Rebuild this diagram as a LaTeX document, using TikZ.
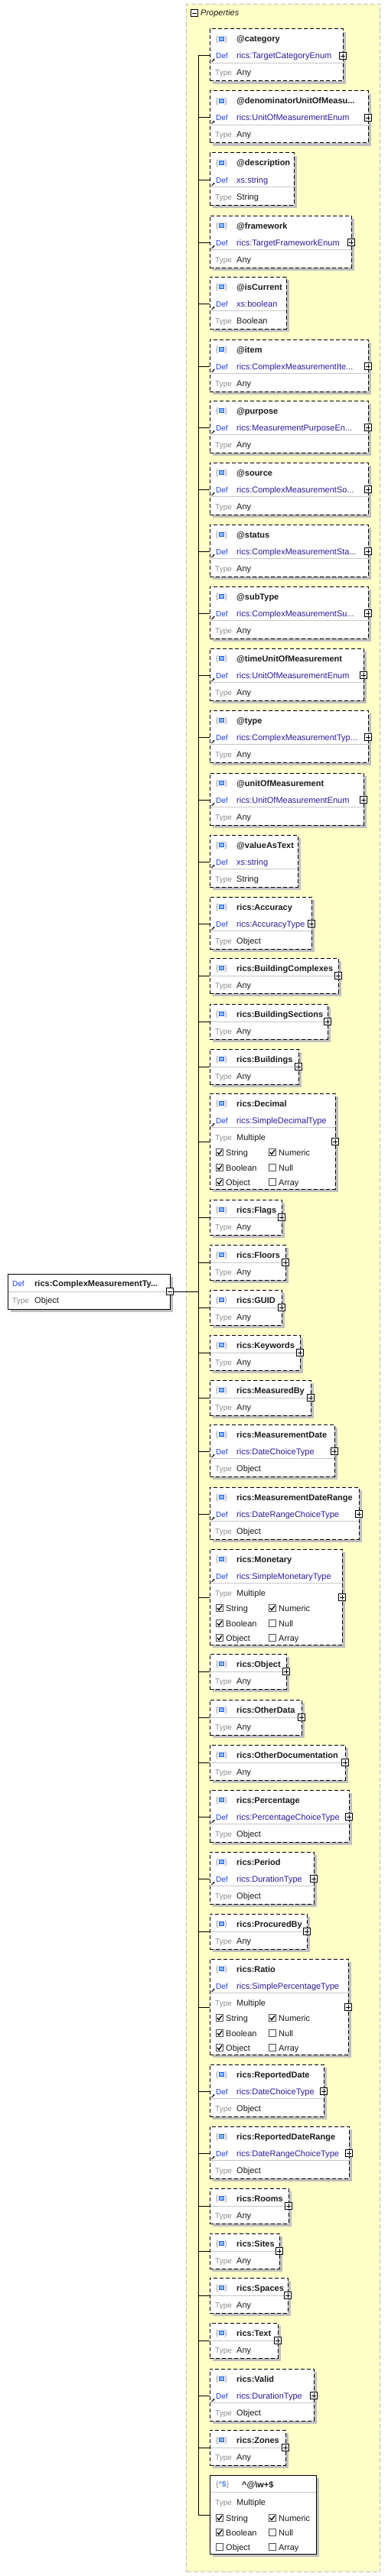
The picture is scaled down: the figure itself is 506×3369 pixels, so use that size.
\documentclass[tikz,border=0pt]{standalone}
\usepackage{fontspec}
\setmainfont{Liberation Sans}
\usetikzlibrary{arrows.meta}
\definecolor{yel}{HTML}{FFFFC8}
\definecolor{cbord}{HTML}{BDBDBD}
\definecolor{shd}{HTML}{C0C0C0}
\definecolor{deflbl}{HTML}{1A3CF0}
\definecolor{defval}{HTML}{2C1C9C}
\definecolor{typelbl}{HTML}{8C8C8C}
\definecolor{sepc}{HTML}{C8C8C8}
\definecolor{iconfill}{HTML}{8CB8FF}
\definecolor{iconbord}{HTML}{1F5FE0}
\definecolor{ckbord}{HTML}{505050}
\definecolor{txt}{HTML}{1A1A1A}
\tikzset{
 pbox/.style={draw=black, line width=1pt, fill=white, anchor=north west, inner sep=0pt, outer sep=0pt, rectangle},
 dsh/.style={dash pattern=on 5pt off 3pt},
 lbl/.style={anchor=base west, inner sep=0pt, font=\fontsize{10}{12}\selectfont},
 ttl/.style={anchor=base west, inner sep=0pt, text=txt, font=\fontsize{11}{13}\selectfont\bfseries},
 val/.style={anchor=base west, inner sep=0pt, text=txt, font=\fontsize{11}{13}\selectfont},
 plusb/.style={draw=black, fill=white, line width=0.8pt, minimum size=9pt, inner sep=0pt, rectangle},
 conn/.style={line width=1pt, black},
 ckstyle/.style={draw=ckbord, fill=white, line width=0.8pt, minimum size=9pt, inner sep=0pt, rectangle},
 defarrow/.style={-{Stealth[length=2.5pt,width=2.5pt]}, line width=0.9pt},
}
\newcommand\plussign[1]{%
 \draw[line width=0.8pt] ([xshift=-3pt]#1.center) -- ([xshift=3pt]#1.center);
 \draw[line width=0.8pt] ([yshift=-3pt]#1.center) -- ([yshift=3pt]#1.center);}
\newcommand\myicon[2]{%
 \node[anchor=base west, inner sep=0pt, text=typelbl, font=\fontsize{10}{12}\selectfont] (#1-ia) at (282,#2+3.5) {\{};
 \draw[iconbord, fill=iconfill, line width=0.8pt] (286.5,#2-2.5) rectangle (292.5,#2+2.5);
 \node[anchor=base west, inner sep=0pt, text=typelbl, font=\fontsize{10}{12}\selectfont] (#1-ib) at (293.5,#2+3.5) {\}};}
\newcommand\ckb[4]{% name x y checked
 \node[ckstyle] (#1) at (#2,#3) {};
 \ifnum#4=1 \draw[line width=1.3pt, line join=miter] (#2-3,#3) -- (#2-1,#3+2.6) -- (#2+3,#3-3);\fi}
\newcommand\checks[5]{% name y1 y2 y3 objectchecked
 \ckb{#1-k1}{287}{#2}{1}\node[val] (#1-k1t) at (295,#2+4) {String};
 \ckb{#1-k2}{356}{#2}{1}\node[val] (#1-k2t) at (364,#2+4) {Numeric};
 \ckb{#1-k3}{287}{#3}{1}\node[val] (#1-k3t) at (295,#3+4) {Boolean};
 \ckb{#1-k4}{356}{#3}{0}\node[val] (#1-k4t) at (364,#3+4) {Null};
 \ckb{#1-k5}{287}{#4}{#5}\node[val] (#1-k5t) at (295,#4+4) {Object};
 \ckb{#1-k6}{356}{#4}{0}\node[val] (#1-k6t) at (364,#4+4) {Array};}
% kind A: title / Def / Type
\newcommand\pbA[7]{%
 \pgfmathsetmacro\pT{#2}\pgfmathsetmacro\pR{#3}\pgfmathsetlengthmacro\pW{(#3)-274}%
 \pgfmathsetmacro\yA{#2+13}\pgfmathsetmacro\yB{#2+35}\pgfmathsetmacro\yS{#2+44}\pgfmathsetmacro\yC{#2+57}%
 \fill[shd] (278,\pT+4) rectangle (\pR+4,\pT+72);
 \node[pbox,dsh,minimum width=\pW,minimum height=68pt] (#1) at (274,\pT) {};
 \draw[sepc, line width=0.8pt] (274.5,\yS) -- (\pR-0.5,\yS);
 \myicon{#1}{\yA}
 \node[ttl] (#1-t) at (309,\yA+4) {#4};
 \node[lbl,text=deflbl] (#1-dl) at (282,\yB+4) {Def};
 \node[val,text=defval] (#1-dv) at (309,\yB+4) {#5};
 \node[lbl,text=typelbl] (#1-tl) at (281,\yC+4) {Type};
 \node[val] (#1-tv) at (309,\yC+4) {#6};
 \draw[defarrow] (276.5,\yB+8) -- (280.5,\yB+4);
 \coordinate (#1-c) at (259,\yB);
 \draw[conn] (#1-c) -- (#1.west |- #1-c);
 \ifnum#7=1 \node[plusb] (#1-p) at (\pR,\yB) {};\plussign{#1-p}\fi}
% kind B: title / Type Any
\newcommand\pbB[4]{%
 \pgfmathsetmacro\pT{#2}\pgfmathsetmacro\pR{#3}\pgfmathsetlengthmacro\pW{(#3)-274}%
 \pgfmathsetmacro\yA{#2+13}\pgfmathsetmacro\yS{#2+23}\pgfmathsetmacro\yC{#2+35}%
 \fill[shd] (278,\pT+4) rectangle (\pR+4,\pT+50);
 \node[pbox,dsh,minimum width=\pW,minimum height=46pt] (#1) at (274,\pT) {};
 \draw[sepc, line width=0.8pt] (274.5,\yS) -- (\pR-0.5,\yS);
 \myicon{#1}{\yA}
 \node[ttl] (#1-t) at (309,\yA+4) {#4};
 \node[lbl,text=typelbl] (#1-tl) at (281,\yC+4) {Type};
 \node[val] (#1-tv) at (309,\yC+4) {Any};
 \coordinate (#1-c) at (259,\yS);
 \draw[conn] (#1-c) -- (#1.west |- #1-c);
 \node[plusb] (#1-p) at (\pR,\yS) {};\plussign{#1-p}}
% kind M: title / Def / Type Multiple + checks
\newcommand\pbM[5]{%
 \pgfmathsetmacro\pT{#2}\pgfmathsetmacro\pR{#3}\pgfmathsetlengthmacro\pW{(#3)-274}%
 \pgfmathsetmacro\yA{#2+13}\pgfmathsetmacro\yB{#2+35}\pgfmathsetmacro\yS{#2+44}\pgfmathsetmacro\yC{#2+57}%
 \pgfmathsetmacro\yK{#2+63}%
 \fill[shd] (278,\pT+4) rectangle (\pR+4,\pT+129);
 \node[pbox,dsh,minimum width=\pW,minimum height=125pt] (#1) at (274,\pT) {};
 \draw[sepc, line width=0.8pt] (274.5,\yS) -- (\pR-0.5,\yS);
 \myicon{#1}{\yA}
 \node[ttl] (#1-t) at (309,\yA+4) {#4};
 \node[lbl,text=deflbl] (#1-dl) at (282,\yB+4) {Def};
 \node[val,text=defval] (#1-dv) at (309,\yB+4) {#5};
 \node[lbl,text=typelbl] (#1-tl) at (281,\yC+4) {Type};
 \node[val] (#1-tv) at (309,\yC+4) {Multiple};
 \checks{#1}{#2+77}{#2+97}{#2+116}{1}
 \draw[defarrow] (276.5,\yB+8) -- (280.5,\yB+4);
 \coordinate (#1-c) at (259,\yK);
 \draw[conn] (#1-c) -- (#1.west |- #1-c);
 \node[plusb] (#1-p) at (\pR,\yK) {};\plussign{#1-p}}
\begin{document}
\begin{tikzpicture}[x=1pt,y=-1pt]
\useasboundingbox (0,0) rectangle (506,3369);
% container
\node[draw=cbord, fill=yel, dash pattern=on 6pt off 3pt, line width=1pt, minimum width=253pt, minimum height=3358pt, anchor=north west, inner sep=0pt] (props) at (243,5) {};
\node[plusb] (props-m) at (254,17) {};
\draw[line width=0.8pt] ([xshift=-3pt]props-m.center) -- ([xshift=3pt]props-m.center);
\node[anchor=base west, inner sep=0pt, text=txt, font=\fontsize{11}{13}\selectfont\itshape] (props-t) at (262,21) {Properties};
% trunk
\coordinate (trk-top) at (259,72);
\coordinate (trk-bot) at (259,3289);
\draw[conn] (trk-top) -- (trk-bot);
% children
\pbA{b1}{38}{448}{@category}{rics:TargetCategoryEnum}{Any}{1}
\pbA{b2}{119}{481}{@denominatorUnitOfMeasu...}{rics:UnitOfMeasurementEnum}{Any}{1}
\pbA{b3}{200}{384}{@description}{xs:string}{String}{0}
\pbA{b4}{282}{459}{@framework}{rics:TargetFrameworkEnum}{Any}{1}
\pbA{b5}{362}{374}{@isCurrent}{xs:boolean}{Boolean}{0}
\pbA{b6}{444}{481}{@item}{rics:ComplexMeasurementIte...}{Any}{1}
\pbA{b7}{524}{481}{@purpose}{rics:MeasurementPurposeEn...}{Any}{1}
\pbA{b8}{605}{481}{@source}{rics:ComplexMeasurementSo...}{Any}{1}
\pbA{b9}{686}{481}{@status}{rics:ComplexMeasurementSta...}{Any}{1}
\pbA{b10}{767}{481}{@subType}{rics:ComplexMeasurementSu...}{Any}{1}
\pbA{b11}{848}{475}{@timeUnitOfMeasurement}{rics:UnitOfMeasurementEnum}{Any}{1}
\pbA{b12}{929}{481}{@type}{rics:ComplexMeasurementTyp...}{Any}{1}
\pbA{b13}{1011}{475}{@unitOfMeasurement}{rics:UnitOfMeasurementEnum}{Any}{1}
\pbA{b14}{1092}{389}{@valueAsText}{xs:string}{String}{0}
\pbA{b15}{1173}{407}{rics:Accuracy}{rics:AccuracyType}{Object}{1}
\pbB{b16}{1253}{442}{rics:BuildingComplexes}
\pbB{b17}{1313}{428}{rics:BuildingSections}
\pbB{b18}{1372}{390}{rics:Buildings}
\pbM{b19}{1430}{438}{rics:Decimal}{rics:SimpleDecimalType}
\pbB{b20}{1569}{368}{rics:Flags}
\pbB{b21}{1628}{373}{rics:Floors}
\pbB{b22}{1687}{368}{rics:GUID}
\pbB{b23}{1746}{392}{rics:Keywords}
\pbB{b24}{1805}{406}{rics:MeasuredBy}
\pbA{b25}{1863}{437}{rics:MeasurementDate}{rics:DateChoiceType}{Object}{1}
\pbA{b26}{1945}{469}{rics:MeasurementDateRange}{rics:DateRangeChoiceType}{Object}{1}
\pbM{b27}{2026}{447}{rics:Monetary}{rics:SimpleMonetaryType}
\pbB{b28}{2163}{374}{rics:Object}
\pbB{b29}{2223}{394}{rics:OtherData}
\pbB{b30}{2282}{451}{rics:OtherDocumentation}
\pbA{b31}{2341}{456}{rics:Percentage}{rics:PercentageChoiceType}{Object}{1}
\pbA{b32}{2422}{410}{rics:Period}{rics:DurationType}{Object}{1}
\pbB{b33}{2503}{401}{rics:ProcuredBy}
\pbM{b34}{2562}{455}{rics:Ratio}{rics:SimplePercentageType}
\pbA{b35}{2700}{423}{rics:ReportedDate}{rics:DateChoiceType}{Object}{1}
\pbA{b36}{2781}{456}{rics:ReportedDateRange}{rics:DateRangeChoiceType}{Object}{1}
\pbB{b37}{2862}{377}{rics:Rooms}
\pbB{b38}{2921}{365}{rics:Sites}
\pbB{b39}{2979}{376}{rics:Spaces}
\pbB{b40}{3038}{363}{rics:Text}
\pbA{b41}{3098}{410}{rics:Valid}{rics:DurationType}{Object}{1}
\pbB{b42}{3178}{373}{rics:Zones}
% regex pattern property
\fill[shd] (278,3241) rectangle (417,3344);
\node[pbox,minimum width=139pt,minimum height=103pt] (b43) at (274,3237) {};
\draw[sepc, line width=0.8pt] (274.5,3259) -- (412.5,3259);
\node[anchor=base west, inner sep=0pt, font=\fontsize{10}{12}\selectfont] (b43-i) at (282,3252.5) {\textcolor{typelbl}{\{}\textcolor{iconbord}{\textasciicircum\$}\textcolor{typelbl}{\}}};
\node[ttl] (b43-t) at (316,3253) {\textasciicircum @\textbackslash w+\$};
\node[lbl,text=typelbl] (b43-tl) at (281,3276) {Type};
\node[val] (b43-tv) at (309,3276) {Multiple};
\checks{b43}{3293}{3312}{3331}{0}
\coordinate (b43-c) at (259,3289);
\draw[conn] (b43-c) -- (b43.west |- b43-c);
% root
\fill[shd] (14,1670) rectangle (226,1716);
\node[pbox,minimum width=212pt,minimum height=46pt] (root) at (10,1666) {};
\draw[sepc, line width=0.8pt] (10.5,1689) -- (221.5,1689);
\node[lbl,text=deflbl] (root-dl) at (16,1682) {Def};
\node[ttl] (root-t) at (45,1682) {rics:ComplexMeasurementTy...};
\node[lbl,text=typelbl] (root-tl) at (16,1704) {Type};
\node[val] (root-tv) at (45,1704) {Object};
\node[plusb] (root-m) at (222,1689) {};
\draw[line width=0.8pt] ([xshift=-3pt]root-m.center) -- ([xshift=3pt]root-m.center);
\coordinate (rootj) at (259,1689);
\draw[conn] (root-m) -- (rootj);
\end{tikzpicture}
\end{document}
